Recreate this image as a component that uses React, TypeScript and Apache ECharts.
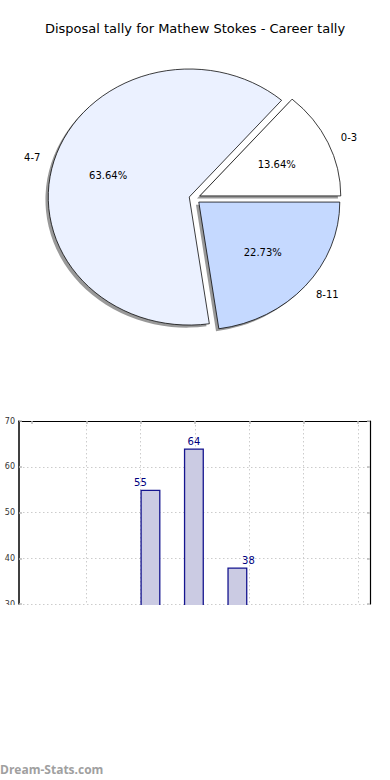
import React, { useEffect, useRef } from "react";
import * as echarts from "echarts";

const titleText = "Disposal tally for Mathew Stokes - Career tally";
const categories = ["0-3", "4-7", "8-11"];
const counts = [3, 14, 5];

const barX = [0.18, 0.98, 1.78];
const barValues = [55, 64, 38];
const yMin = 30;
const yMax = 70;
const yStep = 10;
const xMin = -2;
const xMax = 4;
const xStep = 1;

// styles
const pieColors = ["#ffffff", "#ebf1ff", "#c5d9ff"];
const explodes = [0.045, 0.035, 0.045];
const labelOffsets = [[-10, 0], [0, 0], [11, 0]];

const CX = 194;
const CY = 198.3;
const RX = 141;
const RY = 128;

// layout of the (cropped) bar panel
const plotTop = 421;
const plotBottom = 604;
const bleed = 6; // bars continue past the crop line

export default function App() {
  const ref = useRef<HTMLDivElement>(null);
  useEffect(() => {
    document.body.style.margin = "0";
    const chart = echarts.init(ref.current!, null, { renderer: "svg" });
    const total = counts.reduce((a, b) => a + b, 0);
    const font = "DejaVu Sans";
    const pxPerUnit = (plotBottom - plotTop) / (yMax - yMin);
    const barAxisMin = yMin - bleed / pxPerUnit;
    const option: any = {
      animation: false,
      backgroundColor: "#ffffff",
      title: {
        text: titleText,
        left: "center",
        top: 22,
        padding: 0,
        textStyle: { fontFamily: font, fontSize: 13, fontWeight: "normal", color: "#000" },
      },
      grid: [
        { left: 19, right: 20, top: plotTop, bottom: 780 - plotBottom },
        { left: 32, right: 32, top: plotTop, bottom: 780 - plotBottom - bleed },
      ],
      xAxis: [
        {
          gridIndex: 0,
          type: "value",
          position: "top",
          min: 0,
          max: 1,
          axisLine: { show: true, lineStyle: { color: "#000", width: 1.2 } },
          axisTick: { show: false },
          axisLabel: { show: false },
          splitLine: { show: false },
        },
        {
          gridIndex: 1,
          type: "value",
          position: "top",
          min: xMin,
          max: xMax,
          interval: xStep,
          axisLine: { show: false },
          axisTick: { show: true, inside: true, length: 3, lineStyle: { color: "#bbb", width: 1.5 } },
          axisLabel: { show: false },
          splitLine: { show: true, showMinLine: false, lineStyle: { color: "#cccccc", type: [1.5, 2.5], width: 1 } },
        },
      ],
      yAxis: [
        {
          gridIndex: 0,
          type: "value",
          min: yMin,
          max: yMax,
          interval: yStep,
          axisLine: { show: true, lineStyle: { color: "#000", width: 1.5 } },
          axisTick: { show: true, inside: true, length: 3, lineStyle: { color: "#bbb", width: 1.5 } },
          axisLabel: { show: true, fontSize: 8, color: "#333", margin: 4, fontFamily: font },
          splitLine: { show: true, showMinLine: true, showMaxLine: false, lineStyle: { color: "#cccccc", type: [1.5, 2.5], width: 1 } },
        },
        {
          gridIndex: 0,
          type: "value",
          position: "right",
          min: yMin,
          max: yMax,
          interval: yStep,
          axisLine: { show: true, lineStyle: { color: "#000", width: 1.2 } },
          axisTick: { show: true, inside: true, length: 3, lineStyle: { color: "#bbb", width: 1.5 } },
          axisLabel: { show: false },
          splitLine: { show: false },
        },
        {
          gridIndex: 1,
          type: "value",
          min: barAxisMin,
          max: yMax,
          show: false,
        },
      ],
      series: [
        {
          type: "custom",
          coordinateSystem: "none",
          data: counts.map((v) => [v]),
          renderItem: (params: any, api: any) => {
            const i = params.dataIndex;
            const v = api.value(0);
            const before = counts.slice(0, i).reduce((a, b) => a + b, 0);
            const t1 = (before / total) * Math.PI * 2;
            const t2 = ((before + v) / total) * Math.PI * 2;
            const mid = (t1 + t2) / 2;
            const c = Math.cos(mid);
            const s = Math.sin(mid);
            const e = explodes[i];
            const ox = CX + e * RX * c;
            const oy = CY - e * RY * s;
            const sy = RY / RX;
            const shape = { cx: 0, cy: 0, r: RX, r0: 0, startAngle: -t2, endAngle: -t1, clockwise: true };
            return {
              type: "group",
              children: [
                {
                  type: "group",
                  x: ox - 0.02 * RX,
                  y: oy + 0.02 * RY,
                  scaleY: sy,
                  children: [
                    { type: "sector", z2: 1, shape, style: { fill: "rgba(70,70,70,0.55)" } },
                  ],
                },
                {
                  type: "group",
                  x: ox,
                  y: oy,
                  scaleY: sy,
                  children: [
                    {
                      type: "sector",
                      z2: 5,
                      shape,
                      style: { fill: pieColors[i], stroke: "#000", lineWidth: 0.8, strokeNoScale: true },
                    },
                  ],
                },
                {
                  type: "text",
                  z2: 10,
                  x: ox + 0.6 * RX * c,
                  y: oy - 0.6 * RY * s,
                  style: {
                    text: ((v / total) * 100).toFixed(2) + "%",
                    fill: "#000",
                    fontSize: 10,
                    fontFamily: font,
                    align: "center",
                    verticalAlign: "middle",
                  },
                },
                {
                  type: "text",
                  z2: 10,
                  x: ox + 1.1 * RX * c,
                  y: oy - 1.1 * RY * s,
                  style: {
                    text: categories[i],
                    fill: "#000",
                    fontSize: 10,
                    fontFamily: font,
                    align: c > 0 ? "left" : "right",
                    verticalAlign: "middle",
                  },
                },
              ],
            };
          },
        },
        {
          type: "bar",
          xAxisIndex: 1,
          yAxisIndex: 2,
          barWidth: 20,
          data: barValues.map((v, i) => ({
            value: [barX[i], v],
            label: { offset: labelOffsets[i] },
          })),
          itemStyle: { color: "#cbcbe3", borderColor: "#15158f", borderWidth: 1.3 },
          label: {
            show: true,
            position: "top",
            distance: 2,
            color: "#000080",
            fontSize: 10,
            fontFamily: font,
            formatter: (p: any) => String(p.value[1]),
          },
        },
      ],
      graphic: [
        {
          type: "rect",
          left: 0,
          top: plotBottom + 1,
          z: 100,
          shape: { width: 390, height: 150 },
          style: { fill: "#ffffff" },
        },
        {
          type: "text",
          left: 0,
          top: 763,
          z: 101,
          style: {
            text: "Dream-Stats.com",
            fill: "#a0a0a0",
            fontSize: 12,
            fontWeight: "bold",
            fontFamily: "Open Sans",
          },
        },
      ],
    };
    chart.setOption(option);
    return () => chart.dispose();
  }, []);
  return <div ref={ref} style={{ width: 390, height: 780 }} />;
}
